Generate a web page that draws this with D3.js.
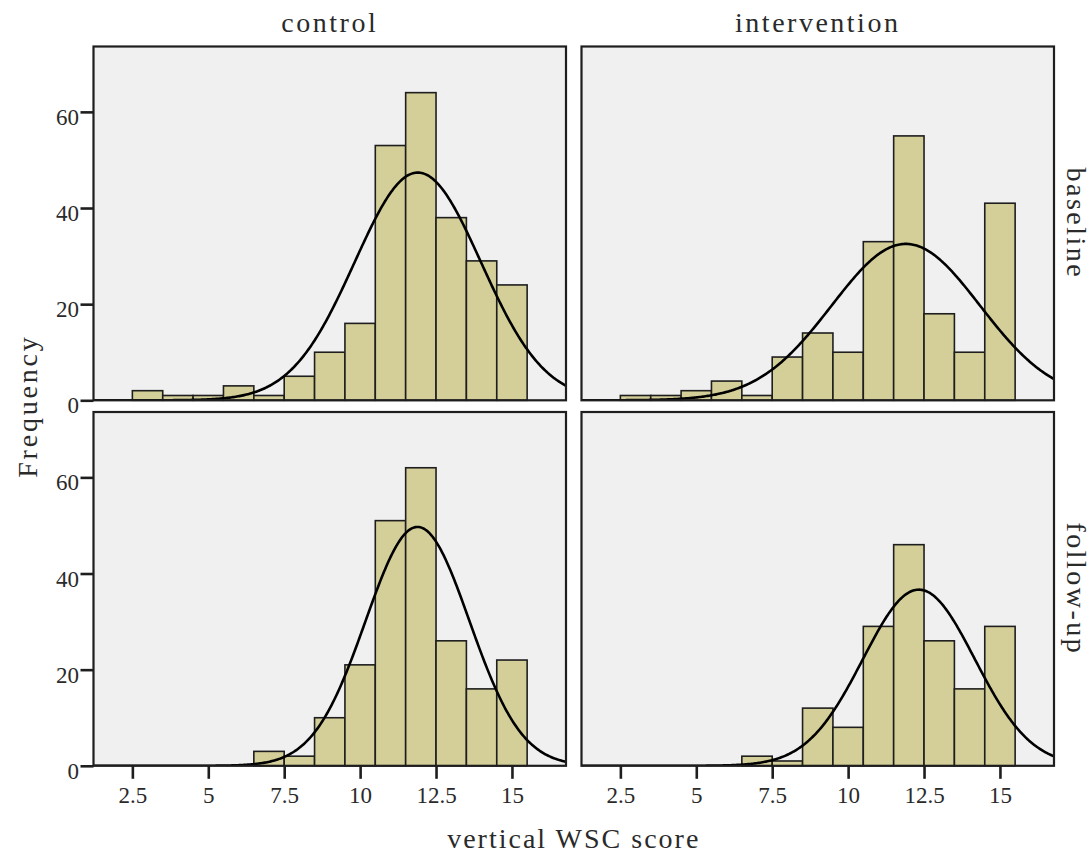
<!DOCTYPE html>
<html>
<head>
<meta charset="utf-8">
<script src="https://cdn.jsdelivr.net/npm/d3@7"></script>
<style>
  html, body { margin: 0; padding: 0; background: #fff; }
  svg { display: block; }
  text { font-family: "Liberation Serif", "Times New Roman", serif; fill: #2a2a2a; }
</style>
</head>
<body>
<svg id="chart" width="1092" height="855"></svg>
<script>
// ---- Data ----
const columns = ["control", "intervention"];
const rows = ["baseline", "follow-up"];
const bins = [3, 4, 5, 6, 7, 8, 9, 10, 11, 12, 13, 14, 15];
const controlBaseline      = [2, 1, 1, 3, 1, 5, 10, 16, 53, 64, 38, 29, 24];
const interventionBaseline = [1, 1, 2, 4, 1, 9, 14, 10, 33, 55, 18, 10, 41];
const controlFollowup      = [0, 0, 0, 0, 3, 2, 10, 21, 51, 62, 26, 16, 22];
const interventionFollowup = [0, 0, 0, 0, 2, 1, 12, 8, 29, 46, 26, 16, 29];
// fitted normal curve parameters per panel: [control-baseline, intervention-baseline, control-follow-up, intervention-follow-up]
const curveMean = [11.9, 11.9, 11.89, 12.33];
const curveSD   = [2.08, 2.44, 1.71, 1.84];
const curveN    = [247, 199, 213, 169];
const xTicks = [2.5, 5, 7.5, 10, 12.5, 15];
const yTicks = [0, 20, 40, 60];
const xDomain = [1.22, 16.78];
const yDomain = [0, 73.6];
const xTitle = "vertical WSC score";
const yTitle = "Frequency";

// ---- Layout ----
const svg = d3.select("#chart");
const colX = [93.5, 581.5];
const rowY = [46.5, 412];
const pw = 472.5, ph = 353.8;
const panelData = [
  {r: 0, c: 0, vals: controlBaseline, k: 0},
  {r: 0, c: 1, vals: interventionBaseline, k: 1},
  {r: 1, c: 0, vals: controlFollowup, k: 2},
  {r: 1, c: 1, vals: interventionFollowup, k: 3}
];

const barFill = "#d4cf98";
const ink = "#1e1e1e";

panelData.forEach((p, i) => {
  const x0 = colX[p.c], y0 = rowY[p.r];
  const x = d3.scaleLinear().domain(xDomain).range([x0, x0 + pw]);
  const y = d3.scaleLinear().domain(yDomain).range([y0 + ph, y0]);
  const g = svg.append("g");

  const clipId = "clip" + i;
  svg.append("clipPath").attr("id", clipId)
    .append("rect").attr("x", x0).attr("y", y0).attr("width", pw).attr("height", ph);

  g.append("rect").attr("x", x0).attr("y", y0).attr("width", pw).attr("height", ph)
    .attr("fill", "#f0f0f0");

  const data = bins.map((b, j) => ({b, v: p.vals[j]})).filter(d => d.v > 0);
  g.append("g").selectAll("rect").data(data).join("rect")
    .attr("x", d => x(d.b - 0.5))
    .attr("width", d => x(d.b + 0.5) - x(d.b - 0.5))
    .attr("y", d => y(d.v))
    .attr("height", d => y(0) - y(d.v))
    .attr("fill", barFill)
    .attr("stroke", ink)
    .attr("stroke-width", 1.6);

  const m = curveMean[p.k], s = curveSD[p.k], n = curveN[p.k];
  const pdf = t => n / (s * Math.sqrt(2 * Math.PI)) * Math.exp(-0.5 * Math.pow((t - m) / s, 2));
  const xs = d3.range(xDomain[0], xDomain[1] + 0.0001, 0.04);
  g.append("path")
    .attr("clip-path", `url(#${clipId})`)
    .attr("d", d3.line().x(t => x(t)).y(t => y(pdf(t)))(xs))
    .attr("fill", "none").attr("stroke", "#000").attr("stroke-width", 2.6);

  g.append("rect").attr("x", x0).attr("y", y0).attr("width", pw).attr("height", ph)
    .attr("fill", "none").attr("stroke", ink).attr("stroke-width", 2.2);

  if (p.c === 0) {
    const ax = g.append("g").attr("transform", `translate(${x0},0)`)
      .call(d3.axisLeft(y).tickValues(yTicks).tickSize(13).tickPadding(1.5).tickFormat(d3.format("d")));
    ax.select(".domain").remove();
    ax.selectAll(".tick line").attr("stroke", ink).attr("stroke-width", 2.6);
    ax.selectAll(".tick text").attr("dy", 12.5)
      .style("font-family", "'Liberation Serif', serif").style("font-size", "23px").attr("fill", "#333");
  }
  if (p.r === 1) {
    const ax = g.append("g").attr("transform", `translate(0,${y0 + ph})`)
      .call(d3.axisBottom(x).tickValues(xTicks).tickSize(13).tickFormat(d3.format("~g")));
    ax.select(".domain").remove();
    ax.selectAll(".tick line").attr("stroke", ink).attr("stroke-width", 2.6);
    ax.selectAll(".tick text").attr("y", 37).attr("dy", 0)
      .style("font-family", "'Liberation Serif', serif").style("font-size", "23px").attr("fill", "#333");
  }
});

const big = "28px";
columns.forEach((c, i) => {
  svg.append("text").attr("x", colX[i] + pw / 2).attr("y", 32)
    .attr("text-anchor", "middle").style("font-size", big).style("letter-spacing", "2.5px").text(c);
});
rows.forEach((r, i) => {
  const cy = rowY[i] + ph / 2;
  svg.append("text").attr("transform", `translate(1067,${cy}) rotate(90)`)
    .attr("text-anchor", "middle").style("font-size", big).style("letter-spacing", "2.5px").text(r);
});
svg.append("text").attr("transform", `translate(37,${(rowY[0] + rowY[1] + ph) / 2}) rotate(-90)`)
  .attr("text-anchor", "middle").style("font-size", big).style("letter-spacing", "2.8px").text(yTitle);
svg.append("text").attr("x", (colX[0] + colX[1] + pw) / 2).attr("y", 848)
  .attr("text-anchor", "middle").style("font-size", big).style("letter-spacing", "2px").text(xTitle);
</script>
</body>
</html>
